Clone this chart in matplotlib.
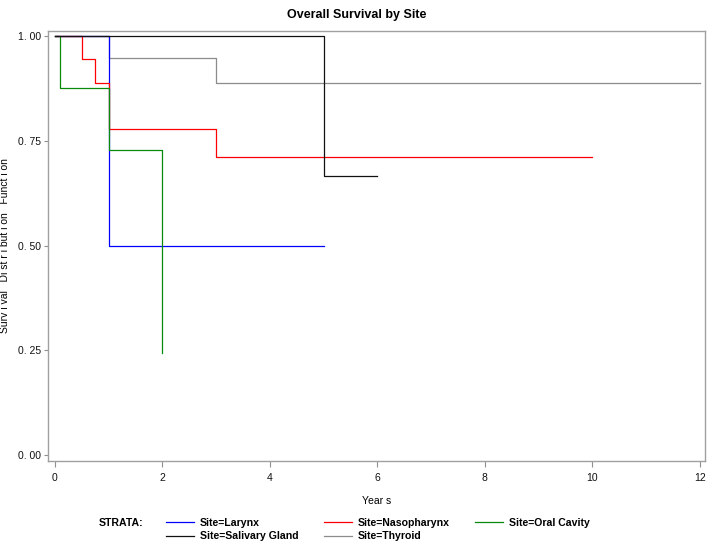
import matplotlib
matplotlib.use("Agg")
import matplotlib.pyplot as plt

plt.rcParams['font.family'] = ['Liberation Sans', 'DejaVu Sans']

# Kaplan-Meier step data (time in years, survival probability)
larynx_t = [0, 1, 5]
larynx_s = [1.0, 0.5, 0.5]
naso_t = [0, 0.5, 0.75, 1, 3, 10]
naso_s = [1.0, 0.944, 0.889, 0.778, 0.711, 0.711]
oral_t = [0, 0.1, 1, 2]
oral_s = [1.0, 0.875, 0.729, 0.243]
saliv_t = [0, 5, 6]
saliv_s = [1.0, 0.667, 0.667]
thyr_t = [0, 1, 3, 12]
thyr_s = [1.0, 0.947, 0.889, 0.889]

labels = ["Site=Larynx", "Site=Nasopharynx", "Site=Oral Cavity",
          "Site=Salivary Gland", "Site=Thyroid"]
colors = ["#0000ff", "#ff0000", "#0a8a0a", "#111111", "#8c8c8c"]
zorders = [4, 5, 6, 7, 2]

x_ticks = [0, 2, 4, 6, 8, 10, 12]
y_ticks = [0.0, 0.25, 0.5, 0.75, 1.0]
y_ticklabels = ["0. 00", "0. 25", "0. 50", "0. 75", "1. 00"]

fig = plt.figure(figsize=(7.08, 5.43), dpi=100)
ax = fig.add_axes([48/708, 1-460.5/543, (705-48)/708, (460.5-31)/543])

series = [(larynx_t, larynx_s), (naso_t, naso_s), (oral_t, oral_s),
          (saliv_t, saliv_s), (thyr_t, thyr_s)]
handles = []
for (t, s), lab, c, z in zip(series, labels, colors, zorders):
    h, = ax.plot(t, s, drawstyle='steps-post', color=c, lw=0.9, zorder=z, label=lab)
    handles.append(h)

ax.set_xlim(-0.13, 12.1)
ax.set_ylim(-0.013, 1.012)
ax.set_xticks(x_ticks)
ax.set_xticklabels([str(v) for v in x_ticks])
ax.set_yticks(y_ticks)
ax.set_yticklabels(y_ticklabels)

for sp in ax.spines.values():
    sp.set_color('#a0a0a0')
    sp.set_linewidth(1.0)
ax.tick_params(axis='x', direction='out', length=4, width=0.8, color='#909090',
               labelsize=7.5, pad=5, labelcolor='#111111')
ax.tick_params(axis='y', direction='out', length=3, width=0.8, color='#909090',
               labelsize=7.5, pad=2, labelcolor='#111111')

ax.set_xlabel("Year s", fontsize=7.5, labelpad=9)
ax.set_ylabel("Surv i val   Di st r i but i on   Funct i on", fontsize=7.5)
ax.yaxis.set_label_coords(-0.0575, 0.5)

fig.suptitle("Overall Survival by Site", fontsize=9, fontweight='bold',
             x=0.504, y=1-15/543, va='center')

# legend ordered row-wise (3 columns, 2 rows)
order = [0, 3, 1, 4, 2]
leg = fig.legend([handles[i] for i in order], [labels[i] for i in order],
                 ncol=3, loc='upper left', bbox_to_anchor=(166/708, 1-518/543),
                 frameon=False, borderpad=0, borderaxespad=0,
                 handlelength=2.65, handletextpad=0.57, columnspacing=2.4,
                 labelspacing=0.32, prop={'size': 7.6, 'weight': 'bold'})
fig.text(99/708, 1-523/543, "STRATA:", fontsize=7.6, fontweight='bold',
         ha='left', va='center')

fig.savefig("out.png", dpi=100)
